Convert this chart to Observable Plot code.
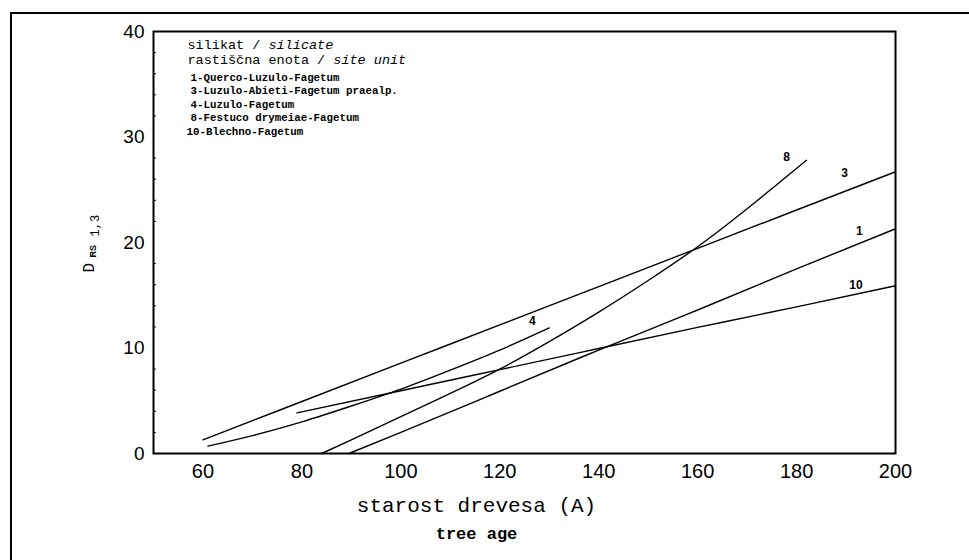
<!DOCTYPE html>
<html><head><meta charset="utf-8">
<script src="https://cdn.jsdelivr.net/npm/d3@7"></script>
<script src="https://cdn.jsdelivr.net/npm/@observablehq/plot@0.6"></script>
<style>
body{margin:0;background:#fff;}
#wrap{position:relative;width:969px;height:560px;overflow:hidden;background:#fff;}
#border{position:absolute;left:10px;top:12px;width:1000px;height:600px;border-top:2px solid #000;border-left:2px solid #000;}
#chart{position:absolute;left:0;top:0;}
</style></head><body>
<div id="wrap"><div id="border"></div><div id="chart"></div></div>
<script>
// series: site units (age in years, D_RS 1,3)
const age1 = [89.5, 100, 120, 140, 160, 180, 200];
const val1 = [0, 2.0, 5.9, 9.8, 13.6, 17.5, 21.3];
const age3 = [60, 80, 100, 120, 140, 160, 180, 200];
const val3 = [1.3, 4.93, 8.56, 12.19, 15.82, 19.45, 23.08, 26.7];
const age4 = [61, 70, 80, 90, 100, 110, 120, 130];
const val4 = [0.7, 1.7, 3.0, 4.5, 6.1, 7.9, 9.8, 11.9];
const age8 = [84, 90, 100, 110, 120, 130, 140, 150, 160, 170, 182];
const val8 = [0, 1.3, 3.5, 5.7, 8.0, 10.6, 13.4, 16.4, 19.6, 23.2, 27.8];
const age10 = [79, 100, 120, 140, 160, 180, 200];
const val10 = [3.85, 5.95, 7.95, 9.95, 11.95, 13.9, 15.9];

const seriesNames = ["1", "3", "4", "8", "10"];
const labelAge = [192.7, 189.7, 126.6, 178, 192];
const labelVal = [21.1, 26.6, 12.5, 28.1, 15.96];

const xTicks = [60, 80, 100, 120, 140, 160, 180, 200];
const yTicks = [0, 10, 20, 30, 40];
const yMinor = [2, 4, 6, 8, 12, 14, 16, 18, 22, 24, 26, 28, 32, 34, 36, 38];

const legendHead1 = ["silikat / ", "silicate"];
const legendHead2 = ["rastiščna enota / ", "site unit"];
const legendItems = ["1-Querco-Luzulo-Fagetum", "3-Luzulo-Abieti-Fagetum praealp.", "4-Luzulo-Fagetum", "8-Festuco drymeiae-Fagetum", "10-Blechno-Fagetum"];
const xTitle = "starost drevesa (A)";
const xTitle2 = "tree age";

const allAges = [age1, age3, age4, age8, age10];
const allVals = [val1, val3, val4, val8, val10];
const rows = [];
seriesNames.forEach((s, i) => allAges[i].forEach((a, j) => rows.push({s, a, v: allVals[i][j]})));
const labels = seriesNames.map((s, i) => ({s, a: labelAge[i], v: labelVal[i]}));

const mono = "Liberation Mono, DejaVu Sans Mono, monospace";
const sans = "Liberation Sans, Arial, sans-serif";
const headSize = 13.5, headCw = headSize * 0.6;
const legendDy = [46, 59, 73, 86, 100];
const legendDx = [37, 37, 37, 37, 33];

const marks = [
  Plot.frame({stroke: "#000", strokeWidth: 2}),
  Plot.ruleY(yMinor, {x1: 50, x2: 50.6, stroke: "#000", strokeWidth: 1}),
  Plot.axisX({ticks: xTicks, tickSize: 0, tickPadding: 10, label: null, fontSize: 20, fontFamily: sans}),
  Plot.axisY({ticks: yTicks, tickSize: 0, tickPadding: 9, label: null, fontSize: 19, fontFamily: sans}),
  Plot.line(rows, {x: "a", y: "v", z: "s", curve: "natural", stroke: "#000", strokeWidth: 1.4}),
  Plot.text(labels, {x: "a", y: "v", text: "s", fontFamily: sans, fontWeight: "bold", fontSize: 12, fill: "#000"}),
  // legend block
  Plot.text([legendHead1[0]], {frameAnchor: "top-left", dx: 34, dy: 13, fontFamily: mono, fontSize: headSize, textAnchor: "start", lineAnchor: "middle"}),
  Plot.text([legendHead1[1]], {frameAnchor: "top-left", dx: 34 + 10 * headCw, dy: 13, fontFamily: mono, fontSize: headSize, fontStyle: "italic", textAnchor: "start", lineAnchor: "middle"}),
  Plot.text([legendHead2[0]], {frameAnchor: "top-left", dx: 34, dy: 28, fontFamily: mono, fontSize: headSize, textAnchor: "start", lineAnchor: "middle"}),
  Plot.text([legendHead2[1]], {frameAnchor: "top-left", dx: 34 + 18 * headCw, dy: 28, fontFamily: mono, fontSize: headSize, fontStyle: "italic", textAnchor: "start", lineAnchor: "middle"}),
  ...legendItems.map((t, i) => Plot.text([t], {frameAnchor: "top-left", dx: legendDx[i], dy: legendDy[i], fontFamily: mono, fontSize: 10.8, fontWeight: "bold", textAnchor: "start", lineAnchor: "middle"})),
  // x titles
  Plot.text([xTitle], {frameAnchor: "bottom", dx: -48, dy: 52, fontFamily: mono, fontSize: 21, fill: "#000", lineAnchor: "middle"}),
  Plot.text([xTitle2], {frameAnchor: "bottom", dx: -48, dy: 80, fontFamily: mono, fontSize: 17, fontWeight: "bold", fill: "#000", lineAnchor: "middle"}),
  // y title D_RS 1,3 (rotated)
  Plot.text(["D"], {frameAnchor: "left", dx: -65, dy: 30, rotate: -90, fontFamily: mono, fontSize: 16, lineAnchor: "middle"}),
  Plot.text(["RS"], {frameAnchor: "left", dx: -60, dy: 15, rotate: -90, fontFamily: sans, fontWeight: "bold", fontSize: 9, lineAnchor: "middle"}),
  Plot.text(["1,3"], {frameAnchor: "left", dx: -58, dy: -6, rotate: -90, fontFamily: mono, fontSize: 12, lineAnchor: "middle"})
];

const chart = Plot.plot({
  width: 969,
  height: 560,
  marginLeft: 153,
  marginRight: 74,
  marginTop: 31,
  marginBottom: 107,
  x: {domain: [50, 200]},
  y: {domain: [0, 40]},
  style: {background: "transparent", color: "#000", fontFamily: sans},
  marks
});
document.getElementById("chart").appendChild(chart);
</script>
</body></html>
